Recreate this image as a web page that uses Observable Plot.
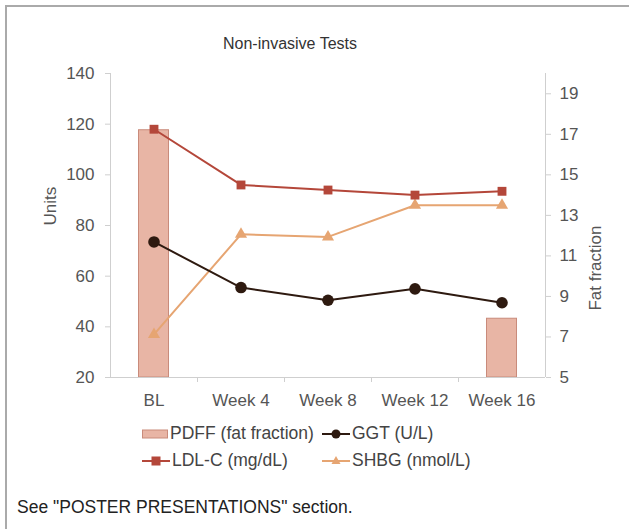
<!DOCTYPE html>
<html><head><meta charset="utf-8">
<script src="https://cdn.jsdelivr.net/npm/d3@7"></script>
<script src="https://cdn.jsdelivr.net/npm/@observablehq/plot@0.6"></script>
<style>
body{margin:0;width:629px;height:529px;position:relative;background:#fff;overflow:hidden;font-family:"Liberation Sans",Arial,sans-serif;}
#frame{position:absolute;left:5px;top:5px;width:640px;height:540px;border-left:2px solid #aaa;border-top:2px solid #aaa;}
#title{position:absolute;top:34px;left:0;width:580px;text-align:center;font-size:16px;color:#333;line-height:20px;}
#chart{position:absolute;left:0;top:60px;}
#legend{position:absolute;left:142px;top:420px;font-size:17.5px;color:#444;}
.row{display:flex;align-items:center;height:27px;}
.item{display:flex;align-items:center;}
.item svg{margin-right:2px;}
#caption{position:absolute;left:17px;top:497px;font-size:17.5px;color:#222;line-height:20px;}
</style></head><body>
<div id="frame"></div>
<div id="title">Non-invasive Tests</div>
<div id="chart"></div>
<div id="legend"></div>
<div id="caption">See "POSTER PRESENTATIONS" section.</div>
<script>
const categories = ["BL", "Week 4", "Week 8", "Week 12", "Week 16"];
const ldl  = [118, 96, 94, 92, 93.5];
const ggt  = [73.5, 55.5, 50.5, 55, 49.5];
const shbg = [37, 76.5, 75.5, 88, 88];
const pdffWeeks = ["BL", "Week 16"];
const pdff = [17.2, 7.9];
const unitTicks = [20, 40, 60, 80, 100, 120, 140];
const fatTicks = [5, 7, 9, 11, 13, 15, 17, 19];
const seriesNames = ["PDFF (fat fraction)", "GGT (U/L)", "LDL-C (mg/dL)", "SHBG (nmol/L)"];

const colors = {pdffFill: "#e8b5a5", pdffStroke: "#c98b7b", ggt: "#2e1a10", ldl: "#b4473a", shbg: "#e6a572"};

// secondary axis mapping: fat fraction [5,20] onto units [20,140]
const fatToUnits = d3.scaleLinear([5, 20], [20, 140]);
const unitsToFat = fatToUnits.invert;

const idx = c => categories.indexOf(c);
const mk = vals => categories.map((c, i) => ({i, v: vals[i]}));
const ldlD = mk(ldl), ggtD = mk(ggt), shbgD = mk(shbg);
const pdffD = pdffWeeks.map((c, k) => ({i: idx(c), v: pdff[k]}));

const grey = "#cfcfcf";
const chart = Plot.plot({
  width: 629, height: 352,
  marginLeft: 110, marginRight: 84, marginTop: 13, marginBottom: 35,
  style: {fontFamily: "'Liberation Sans', Arial, sans-serif", fontSize: "17px", color: "#555", background: "transparent"},
  x: {type: "linear", domain: [-0.5, 4.5]},
  y: {domain: [20, 140]},
  marks: [
    Plot.rectY(pdffD, {x1: d => d.i - 0.5, x2: d => d.i + 0.5, y1: 20, y2: d => fatToUnits(d.v),
      insetLeft: 28.5, insetRight: 28.5, fill: colors.pdffFill, stroke: colors.pdffStroke, strokeWidth: 1}),
    Plot.ruleX([-0.5], {stroke: grey}),
    Plot.ruleX([4.5], {stroke: grey}),
    Plot.ruleY([20], {stroke: grey}),
    Plot.axisY({ticks: unitTicks, tickSize: 5, tickPadding: 11, stroke: grey, fill: "#555", label: null}),
    Plot.axisY({anchor: "right", ticks: fatTicks.map(fatToUnits), tickFormat: d => Math.round(unitsToFat(d)),
      tickSize: 5, tickPadding: 9, stroke: grey, fill: "#555", label: null}),
    Plot.axisX({ticks: [0.5, 1.5, 2.5, 3.5], tickFormat: () => "", tickSize: 5, stroke: grey, label: null}),
    Plot.axisX({ticks: [0, 1, 2, 3, 4], tickFormat: i => categories[i], tickSize: 0, tickPadding: 16, fill: "#555", label: null}),
    Plot.text(["Units"], {frameAnchor: "left", dx: -60, rotate: -90, fill: "#555", fontSize: 17}),
    Plot.text(["Fat fraction"], {frameAnchor: "right", dx: 50, rotate: -90, fill: "#555", fontSize: 17}),
    Plot.line(shbgD, {x: "i", y: "v", stroke: colors.shbg, strokeWidth: 2}),
    Plot.line(ggtD, {x: "i", y: "v", stroke: colors.ggt, strokeWidth: 2}),
    Plot.line(ldlD, {x: "i", y: "v", stroke: colors.ldl, strokeWidth: 2}),
    Plot.dot(shbgD, {x: "i", y: "v", symbol: "triangle", r: 4.5, fill: colors.shbg}),
    Plot.dot(ggtD, {x: "i", y: "v", symbol: "circle", r: 5.8, fill: colors.ggt}),
    Plot.dot(ldlD, {x: "i", y: "v", symbol: "square", r: 5, fill: colors.ldl})
  ]
});
document.getElementById("chart").appendChild(chart);

// legend
const sym = {
  pdff: `<svg width="26" height="14"><rect x="0.5" y="3" width="25" height="8" fill="${colors.pdffFill}" stroke="${colors.pdffStroke}"/></svg>`,
  ggt: `<svg width="28" height="14"><line x1="0" y1="7" x2="28" y2="7" stroke="${colors.ggt}" stroke-width="2"/><circle cx="14" cy="7" r="4.5" fill="${colors.ggt}"/></svg>`,
  ldl: `<svg width="28" height="14"><line x1="0" y1="7" x2="28" y2="7" stroke="${colors.ldl}" stroke-width="2"/><rect x="9.5" y="2.5" width="9" height="9" fill="${colors.ldl}"/></svg>`,
  shbg: `<svg width="28" height="14"><line x1="0" y1="7" x2="28" y2="7" stroke="${colors.shbg}" stroke-width="2"/><path d="M14,2 L18.5,10 L9.5,10 Z" fill="${colors.shbg}"/></svg>`
};
const legendRows = [[["pdff", seriesNames[0]], ["ggt", seriesNames[1]]], [["ldl", seriesNames[2]], ["shbg", seriesNames[3]]]];
const lg = document.getElementById("legend");
legendRows.forEach(r => {
  const row = document.createElement("div"); row.className = "row";
  r.forEach(([k, name], j) => {
    const it = document.createElement("div"); it.className = "item";
    if (j === 0) it.style.width = "180px";
    it.innerHTML = sym[k] + `<span>${name}</span>`;
    row.appendChild(it);
  });
  lg.appendChild(row);
});
</script>
</body></html>
